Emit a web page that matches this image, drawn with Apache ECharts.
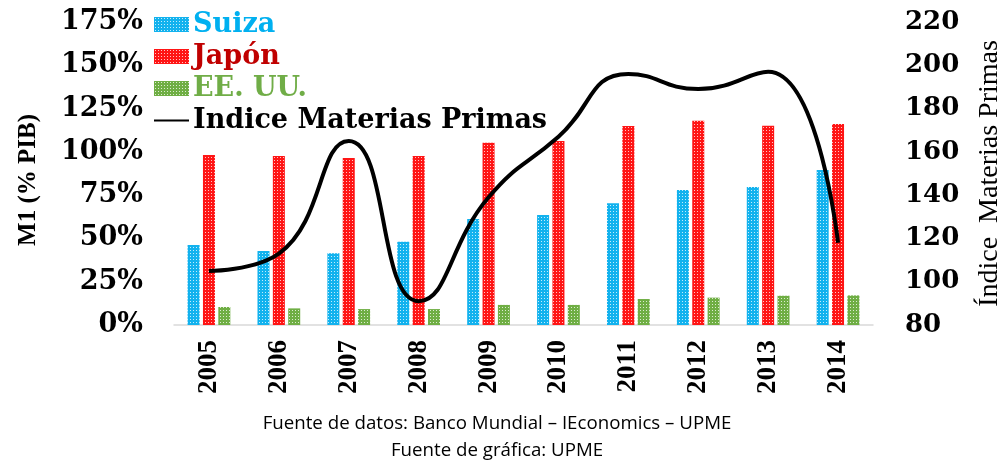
<!DOCTYPE html>
<html style="height: 100%">
<head>
<meta charset="utf-8">
<style>
    html, body { height: 100%; margin: 0; overflow: hidden; background: #fff; }
    #container { width: 1008px; height: 463px; }
</style>
</head>
<body>
<div id="container"></div>
<script src="https://cdn.jsdelivr.net/npm/echarts@6/dist/echarts.min.js"></script>
<script type="text/javascript">
// datos
var years = ['2005', '2006', '2007', '2008', '2009', '2010', '2011', '2012', '2013', '2014'];
var suiza = [46.2, 42.7, 41.4, 48.1, 61.2, 63.5, 70.3, 78.0, 79.7, 89.5];
var japon = [98.2, 97.6, 96.5, 97.6, 105.3, 106.3, 115.0, 117.9, 115.1, 116.1];
var eeuu = [10.4, 9.6, 9.2, 9.2, 11.6, 11.6, 15.0, 15.8, 16.9, 17.1];
var materias = [105, 113, 165, 91, 139, 167, 196, 189, 197, 118];
var leftTicks = { min: 0, max: 175, interval: 25 };
var rightTicks = { min: 80, max: 220, interval: 20 };

// relleno punteado tipo Excel
function pattern(color) {
    var c = document.createElement('canvas');
    c.width = 3; c.height = 3;
    var ctx = c.getContext('2d');
    ctx.fillStyle = color;
    ctx.fillRect(0, 0, 3, 3);
    ctx.fillStyle = 'rgba(255,255,255,0.75)';
    ctx.fillRect(1, 1, 1, 1);
    return { image: c, repeat: 'repeat' };
}

var myChart = echarts.init(document.getElementById('container'));
var option = {
    animation: false,
    title: [{
        text: 'Fuente de datos: Banco Mundial \u2013 IEconomics \u2013 UPME',
        left: 492, top: 409, textAlign: 'center',
        textStyle: { fontFamily: 'Open Sans', fontWeight: 'normal', fontSize: 18.7, color: '#000' }
    }, {
        text: 'Fuente de gráfica: UPME',
        left: 492, top: 436, textAlign: 'center',
        textStyle: { fontFamily: 'Open Sans', fontWeight: 'normal', fontSize: 18.7, color: '#000' }
    }],
    legend: {
        orient: 'vertical',
        left: 153, top: 11,
        padding: 0,
        itemWidth: 35, itemHeight: 15,
        itemGap: 5,
        textStyle: { fontFamily: 'DejaVu Serif', fontWeight: 'bold', fontSize: 27, color: '#000', padding: [0, 0, 0, -1] },
        data: [
            { name: 'Suiza', icon: 'rect', textStyle: { color: '#00B0F0' } },
            { name: 'Japón', icon: 'rect', textStyle: { color: '#C00000' } },
            { name: 'EE. UU.', icon: 'rect', textStyle: { color: '#70AD47' } },
            { name: 'Indice Materias Primas', itemStyle: { opacity: 0 }, textStyle: { color: '#000' } }
        ]
    },
    grid: { left: 174, right: 135, top: 22, bottom: 138, outerBoundsMode: 'none' },
    xAxis: {
        type: 'category',
        data: years,
        axisLine: { lineStyle: { color: '#D9D9D9', width: 1.5 } },
        axisTick: { show: false },
        axisLabel: { rotate: 90, margin: 15, fontFamily: 'Liberation Serif', fontWeight: 'bold', fontSize: 27, color: '#000' }
    },
    yAxis: [{
        type: 'value',
        min: leftTicks.min, max: leftTicks.max, interval: leftTicks.interval,
        name: 'M1 (% PIB)',
        nameLocation: 'middle',
        nameRotate: 90,
        nameGap: 133,
        nameTextStyle: { fontFamily: 'Liberation Serif', fontWeight: 'bold', fontSize: 25, color: '#000', padding: [0, 13, 0, 0] },
        splitLine: { show: false },
        axisLine: { show: false },
        axisTick: { show: false },
        axisLabel: { formatter: '{value}%', margin: 31, fontFamily: 'DejaVu Serif', fontWeight: 'bold', fontSize: 27, color: '#000' }
    }, {
        type: 'value',
        position: 'right',
        min: rightTicks.min, max: rightTicks.max, interval: rightTicks.interval,
        name: 'Índice  Materias Primas',
        nameLocation: 'middle',
        nameRotate: 90,
        nameGap: 103,
        nameTextStyle: { fontFamily: 'Liberation Serif', fontSize: 28, color: '#000' },
        splitLine: { show: false },
        axisLine: { show: false },
        axisTick: { show: false },
        axisLabel: { margin: 32, fontFamily: 'DejaVu Serif', fontWeight: 'bold', fontSize: 26, color: '#000' }
    }],
    series: [{
        name: 'Suiza', type: 'bar', data: suiza,
        barWidth: 12, barGap: '28%',
        itemStyle: { color: pattern('#12B2EE') }
    }, {
        name: 'Japón', type: 'bar', data: japon,
        barWidth: 12,
        itemStyle: { color: pattern('#FF1515') }
    }, {
        name: 'EE. UU.', type: 'bar', data: eeuu,
        barWidth: 12,
        itemStyle: { color: pattern('#6FAE44') }
    }, {
        name: 'Indice Materias Primas', type: 'line', yAxisIndex: 1,
        data: materias,
        smooth: true,
        symbol: 'none',
        lineStyle: { color: '#000', width: 4 },
        itemStyle: { color: '#000' },
        z: 5
    }]
};
myChart.setOption(option);
</script>
</body>
</html>
